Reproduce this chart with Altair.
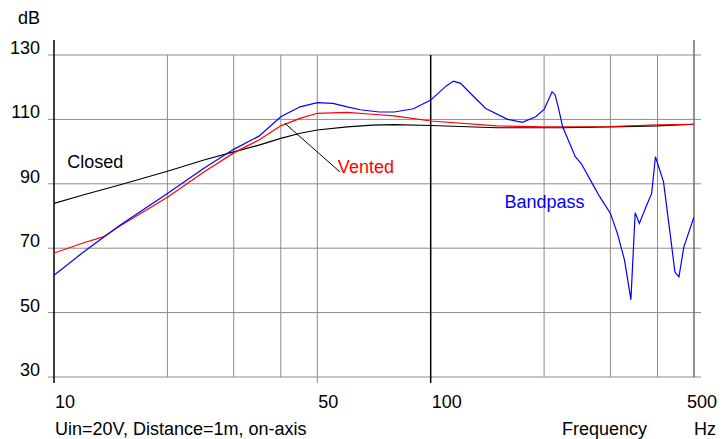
import altair as alt
import pandas as pd

# ---------------- data ----------------
closed_f = [10, 12, 15, 20, 25, 30, 35, 40, 45, 50, 60, 70, 80, 100, 150, 225, 300, 400, 500]
closed_db = [83.9, 86.6, 89.7, 93.9, 97.4, 99.9, 102.0, 104.1, 105.7, 106.7, 107.7, 108.2,
             108.4, 108.1, 107.4, 107.4, 107.7, 108.0, 108.5]

vented_f = [10, 12, 13.5, 15, 20, 25, 30, 35, 40, 45, 50, 60, 70, 80, 100, 150, 200, 300, 400, 500]
vented_db = [68.5, 71.7, 73.5, 77.0, 85.8, 93.7, 99.6, 103.6, 108.0, 110.3, 111.9, 112.2,
             111.6, 111.1, 109.5, 108.0, 107.7, 107.8, 108.3, 108.5]

bandpass_f = [10, 12, 15, 20, 25, 30, 35, 40, 45, 50, 55, 60, 65, 73, 80, 90, 100, 110, 115,
              120, 130, 140, 160, 175, 190, 200, 210, 214, 219, 224, 242, 251, 270, 281, 300,
              313, 327, 340, 349, 358, 376, 386, 395, 415, 432, 445, 456, 470, 500]
bandpass_db = [61.6, 68.9, 77.2, 87.0, 94.8, 100.7, 104.8, 110.8, 113.9, 115.2, 115.0, 113.9,
               113.0, 112.3, 112.3, 113.3, 116.0, 120.4, 121.9, 121.2, 117.1, 113.4, 110.0,
               109.1, 110.8, 113.1, 118.6, 117.6, 112.9, 107.7, 98.4, 96.3, 89.6, 86.0, 80.8,
               74.6, 66.3, 54.0, 81.0, 77.7, 83.9, 87.0, 98.4, 90.6, 74.6, 62.6, 61.1, 70.4, 79.7]

series_names = ["Closed", "Vented", "Bandpass"]
series_colors = ["#000000", "#ff0000", "#0000ff"]

# axis ticks / grid
y_ticks = [30, 50, 70, 90, 110, 130]
x_minor_grid = [20, 30, 40, 200, 300, 400]
x_labels = [10, 50, 100, 500]

# curve labels (text, frequency, dB at baseline)
label_text = ["Closed", "Vented", "Bandpass"]
label_f = [10.85, 56.7, 157.0]
label_db = [94.9, 93.3, 82.4]

# leader line for "Vented"
leader_f = [41.0, 57.4]
leader_db = [108.8, 93.7]

# ---------------- chart ----------------
W, H = 640, 322
FONT = "Liberation Sans, Arial, sans-serif"
FS = 18
GRID = "#8c8c8c"

xs = alt.Scale(type="log", domain=[10, 500], nice=False)
ys = alt.Scale(domain=[30, 130], nice=False, zero=False)

curves = pd.concat([
    pd.DataFrame({"f": closed_f, "db": closed_db, "s": "Closed"}),
    pd.DataFrame({"f": vented_f, "db": vented_db, "s": "Vented"}),
    pd.DataFrame({"f": bandpass_f, "db": bandpass_db, "s": "Bandpass"}),
])

hgrid = alt.Chart(pd.DataFrame({"db": y_ticks})).mark_rule(color=GRID, strokeWidth=1).encode(
    y=alt.Y("db:Q", scale=ys, axis=None),
    x=alt.value(-6), x2=alt.value(647),
)

vminor = alt.Chart(pd.DataFrame({"f": x_minor_grid})).mark_rule(color=GRID, strokeWidth=1).encode(
    x=alt.X("f:Q", scale=xs, axis=None),
    y=alt.value(0), y2=alt.value(H),
)

v50 = alt.Chart(pd.DataFrame({"f": [50]})).mark_rule(color=GRID, strokeWidth=1).encode(
    x=alt.X("f:Q", scale=xs, axis=None),
    y=alt.value(0), y2=alt.value(H + 6),
)

v500 = alt.Chart(pd.DataFrame({"f": [500]})).mark_rule(color="#6e6e6e", strokeWidth=1.5).encode(
    x=alt.X("f:Q", scale=xs, axis=None),
    y=alt.value(-15), y2=alt.value(H),
)

v10 = alt.Chart(pd.DataFrame({"f": [10]})).mark_rule(color="#000000", strokeWidth=1.5).encode(
    x=alt.X("f:Q", scale=xs, axis=None),
    y=alt.value(-15), y2=alt.value(H + 6),
)

v100 = alt.Chart(pd.DataFrame({"f": [100]})).mark_rule(color="#000000", strokeWidth=1.5).encode(
    x=alt.X("f:Q", scale=xs, axis=None),
    y=alt.value(0), y2=alt.value(H + 6),
)

lines = alt.Chart(curves).mark_line(strokeWidth=1.2, clip=True).encode(
    x=alt.X("f:Q", scale=xs, axis=None),
    y=alt.Y("db:Q", scale=ys, axis=None),
    color=alt.Color("s:N", scale=alt.Scale(domain=series_names, range=series_colors), legend=None),
    detail="s:N",
)

leader = alt.Chart(pd.DataFrame({"f": [leader_f[0]], "f2": [leader_f[1]],
                                 "db": [leader_db[0]], "db2": [leader_db[1]]})).mark_rule(
    color="#000000", strokeWidth=1).encode(
    x=alt.X("f:Q", scale=xs, axis=None), x2="f2:Q",
    y=alt.Y("db:Q", scale=ys, axis=None), y2="db2:Q",
)

curve_labels = alt.Chart(pd.DataFrame({"t": label_text, "f": label_f, "db": label_db})).mark_text(
    font=FONT, fontSize=FS, align="left", baseline="alphabetic").encode(
    x=alt.X("f:Q", scale=xs, axis=None),
    y=alt.Y("db:Q", scale=ys, axis=None),
    text="t:N",
    color=alt.Color("t:N", scale=alt.Scale(domain=series_names, range=series_colors), legend=None),
)

ylabels = alt.Chart(pd.DataFrame({"db": y_ticks})).mark_text(
    font=FONT, fontSize=FS, align="right", baseline="alphabetic", dy=-1, color="#000000").encode(
    y=alt.Y("db:Q", scale=ys, axis=None),
    x=alt.value(-14),
    text=alt.Text("db:Q"),
)

xlabels = alt.Chart(pd.DataFrame({"f": x_labels[:-1]})).mark_text(
    font=FONT, fontSize=FS, align="left", baseline="alphabetic", dx=1, color="#000000").encode(
    x=alt.X("f:Q", scale=xs, axis=None),
    y=alt.value(H + 31),
    text=alt.Text("f:Q"),
)

# last label is right-aligned so it stays inside the page
xlabel_last = alt.Chart(pd.DataFrame({"f": x_labels[-1:]})).mark_text(
    font=FONT, fontSize=FS, align="right", baseline="alphabetic", dx=23, color="#000000").encode(
    x=alt.X("f:Q", scale=xs, axis=None),
    y=alt.value(H + 31),
    text=alt.Text("f:Q"),
)

captions = alt.Chart(pd.DataFrame({
    "t": ["dB", "Uin=20V, Distance=1m, on-axis", "Frequency", "Hz"],
    "px": [-36, 1, 508, 640],
    "py": [-31, H + 58, H + 58, H + 58],
})).mark_text(font=FONT, fontSize=FS, align="left", baseline="alphabetic", color="#000000").encode(
    x=alt.X("px:Q", scale=None),
    y=alt.Y("py:Q", scale=None),
    text="t:N",
)

chart = alt.layer(
    hgrid, vminor, v50, v500, v10, v100, lines, leader, curve_labels, ylabels, xlabels,
    xlabel_last, captions
).resolve_scale(color="independent").properties(
    width=W, height=H,
    padding={"left": 46, "top": 47, "right": 24, "bottom": 62},
    autosize=alt.AutoSizeParams(type="none"),
    background="white",
).configure_view(stroke=None)

chart.save("out.html", embed_options={"renderer": "svg", "actions": False})
